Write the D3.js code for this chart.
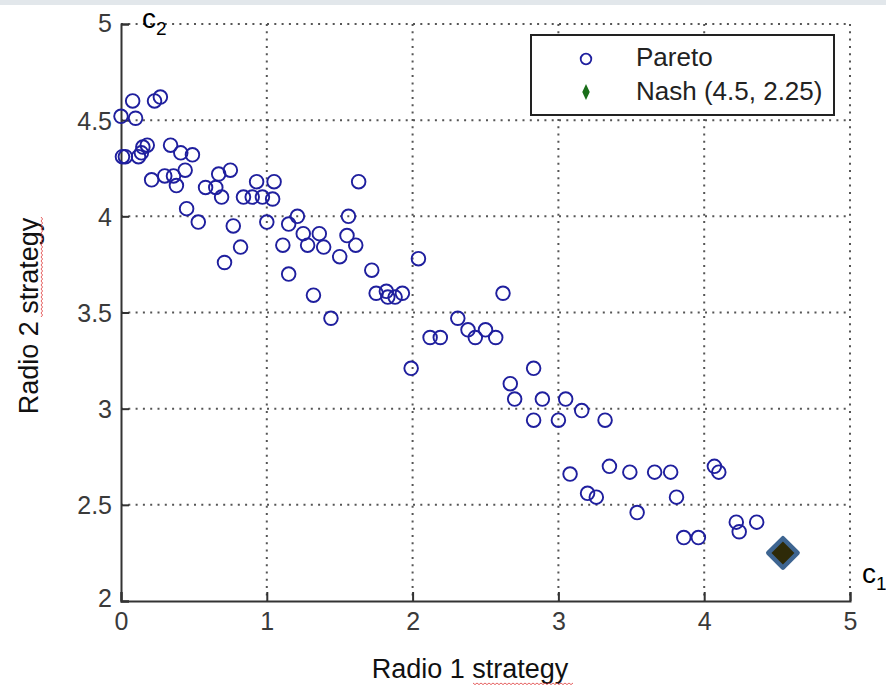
<!DOCTYPE html>
<html>
<head>
<meta charset='utf-8'>
<style>
body { margin: 0; background: #fff; }
text { font-family: 'Liberation Sans', Arial, sans-serif; }
.grid line { stroke: #555; stroke-width: 2px; stroke-dasharray: 2,5.3; }
.tick-label { fill: #3a3a3a; font-size: 25px; }
.axis-title { fill: #111; font-size: 27px; }
.pareto { fill: none; stroke: #1f1f9e; stroke-width: 1.9px; }
</style>
<script src='https://d3js.org/d3.v7.min.js'></script>
</head>
<body>
<svg id='chart1' width='886' height='685'></svg>
</body>
<script>
// Pareto front points
var paretoX = [0.00, 0.08, 0.10, 0.23, 0.27, 0.01, 0.03, 0.12, 0.14, 0.15,
  0.18, 0.34, 0.41, 0.49, 0.44, 0.21, 0.30, 0.36, 0.38, 0.45,
  0.53, 0.58, 0.65, 0.67, 0.69, 0.75, 0.77, 0.84, 0.90, 0.93,
  0.97, 1.04, 1.05, 1.00, 1.63, 1.15, 1.21, 1.25, 1.36, 1.56,
  1.55, 0.82, 0.71, 1.11, 1.28, 1.39, 1.50, 1.61, 1.15, 1.32,
  1.44, 1.72, 1.75, 1.82, 1.83, 1.88, 1.93, 2.04, 1.99, 2.12,
  2.19, 2.62, 2.31, 2.38, 2.43, 2.50, 2.57, 2.83, 2.67, 2.70,
  2.89, 3.05, 3.16, 2.83, 3.00, 3.32, 3.08, 3.35, 3.49, 3.66,
  3.77, 3.20, 3.26, 3.81, 3.54, 4.07, 4.10, 3.86, 3.96, 4.22,
  4.24, 4.36];
var paretoY = [4.52, 4.60, 4.51, 4.60, 4.62, 4.31, 4.31, 4.31, 4.33, 4.36,
  4.37, 4.37, 4.33, 4.32, 4.24, 4.19, 4.21, 4.21, 4.16, 4.04,
  3.97, 4.15, 4.15, 4.22, 4.10, 4.24, 3.95, 4.10, 4.10, 4.18,
  4.10, 4.09, 4.18, 3.97, 4.18, 3.96, 4.00, 3.91, 3.91, 4.00,
  3.90, 3.84, 3.76, 3.85, 3.85, 3.84, 3.79, 3.85, 3.70, 3.59,
  3.47, 3.72, 3.60, 3.61, 3.58, 3.58, 3.60, 3.78, 3.21, 3.37,
  3.37, 3.60, 3.47, 3.41, 3.37, 3.41, 3.37, 3.21, 3.13, 3.05,
  3.05, 3.05, 2.99, 2.94, 2.94, 2.94, 2.66, 2.70, 2.67, 2.67,
  2.67, 2.56, 2.54, 2.54, 2.46, 2.70, 2.67, 2.33, 2.33, 2.41,
  2.36, 2.41];

// Nash point (as plotted)
var nashX = [4.54];
var nashY = [2.25];

var xTicks = [0, 1, 2, 3, 4, 5];
var yTicks = [2, 2.5, 3, 3.5, 4, 4.5, 5];
var legendLabels = ['Pareto', 'Nash (4.5, 2.25)'];
var xLabel = 'Radio 1 strategy';
var yLabel = 'Radio 2 strategy';

var svg = d3.select('#chart1');
var margin = {top: 24, left: 121, right: 36, bottom: 84};
var width = +svg.attr('width') - margin.left - margin.right;
var height = +svg.attr('height') - margin.top - margin.bottom;

// faint window strip at the very top
svg.append('rect').
    attr('x', 0).attr('y', 0).
    attr('width', 886).attr('height', 5).
    attr('fill', '#e2e7eb');

var x = d3.scaleLinear().domain([0, 5]).range([0, width]);
var y = d3.scaleLinear().domain([2, 5]).range([height, 0]);

var g = svg.append('g').
    attr('transform', 'translate(' + margin.left + ',' + margin.top + ')');

// dotted grid
var grid = g.append('g').attr('class', 'grid');
grid.selectAll('.gx').
    data(xTicks.slice(1)).
  enter().append('line').
    attr('x1', function(d) { return x(d); }).
    attr('x2', function(d) { return x(d); }).
    attr('y1', 0).attr('y2', height);
grid.selectAll('.gy').
    data(yTicks.slice(1)).
  enter().append('line').
    attr('y1', function(d) { return y(d); }).
    attr('y2', function(d) { return y(d); }).
    attr('x1', 0).attr('x2', width);

// axes: MATLAB-style, ticks pointing inward
var xAxis = g.append('g').
    attr('transform', 'translate(0,' + height + ')').
    call(d3.axisBottom(x).tickValues(xTicks).tickSize(-9).tickPadding(4).tickFormat(d3.format('d')));
var yAxis = g.append('g').
    call(d3.axisLeft(y).tickValues(yTicks).tickSize(-8).tickPadding(9).tickFormat(function(d) { return String(d); }));

[xAxis, yAxis].forEach(function(a) {
  a.select('.domain').attr('stroke', '#333').attr('stroke-width', 2);
  a.selectAll('.tick line').attr('stroke', '#333').attr('stroke-width', 2);
  a.selectAll('.tick text').attr('class', 'tick-label').attr('fill', null).
      style('font-size', '25px');
});
xAxis.selectAll('.tick text').attr('dy', '1.0em');
yAxis.selectAll('.tick text').attr('dy', '0.36em');
yAxis.selectAll('.tick text').filter(function(d) { return d === 2; }).attr('dy', '0.2em');
yAxis.selectAll('.tick text').filter(function(d) { return d === 5; }).attr('dy', '0.3em');

// pareto points
var pts = paretoX.map(function(v, i) { return {x: v, y: paretoY[i]}; });
g.selectAll('.pareto').
    data(pts).
  enter().append('circle').
    attr('class', 'pareto').
    attr('cx', function(d) { return x(d.x); }).
    attr('cy', function(d) { return y(d.y); }).
    attr('r', 6.8);

// nash point
g.selectAll('.nash').
    data(nashX.map(function(v, i) { return {x: v, y: nashY[i]}; })).
  enter().append('path').
    attr('class', 'nash').
    attr('d', d3.symbol().type(d3.symbolSquare).size(430)).
    attr('transform', function(d) { return 'translate(' + x(d.x) + ',' + y(d.y) + ') rotate(45)'; }).
    attr('fill', '#2e2a08').
    attr('stroke', '#3e6591').
    attr('stroke-width', 4.5).
    attr('stroke-linejoin', 'round');

// legend
var leg = svg.append('g').attr('transform', 'translate(531,35)');
leg.append('rect').
    attr('width', 303).attr('height', 80).
    attr('fill', '#fff').attr('stroke', '#222').attr('stroke-width', 2);
leg.append('circle').
    attr('cx', 55).attr('cy', 24).attr('r', 5.3).
    attr('fill', 'none').attr('stroke', '#1f1f9e').attr('stroke-width', 1.8);
leg.append('path').
    attr('d', d3.symbol().type(d3.symbolDiamond).size(60)).
    attr('transform', 'translate(55,57) scale(0.9,1.1)').
    attr('fill', '#1a6e1a');
leg.selectAll('.lt').
    data(legendLabels).
  enter().append('text').
    attr('x', 105).
    attr('y', function(d, i) { return 31 + i * 34; }).
    attr('fill', '#222').
    style('font-size', '26px').
    text(function(d) { return d; });

// axis titles
svg.append('text').
    attr('class', 'axis-title').
    attr('x', 470).attr('y', 678).
    attr('text-anchor', 'middle').
    text(xLabel);
svg.append('text').
    attr('class', 'axis-title').
    attr('transform', 'translate(38,316) rotate(-90)').
    attr('text-anchor', 'middle').
    text(yLabel);

// spell-check squiggles under "strategy"
function squiggle(x0, x1, y0) {
  var p = 'M' + x0 + ',' + y0;
  for (var xx = x0, k = 0; xx < x1; xx += 2, k++) {
    p += 'L' + (xx + 2) + ',' + (y0 + (k % 2 ? 0 : 1.6));
  }
  return p;
}
svg.append('path').
    attr('d', squiggle(473, 572, 683)).
    attr('fill', 'none').attr('stroke', '#e25050').attr('stroke-width', 0.9);
svg.append('path').
    attr('d', squiggle(0, 100, 0)).
    attr('transform', 'translate(41,317) rotate(-90)').
    attr('fill', 'none').attr('stroke', '#e25050').attr('stroke-width', 0.9);

// corner labels c2 / c1
var c2 = svg.append('text').attr('x', 142).attr('y', 28).attr('fill', '#000').style('font-size', '28px');
c2.append('tspan').text('c');
c2.append('tspan').attr('dy', 7).style('font-size', '19px').text('2');
var c1 = svg.append('text').attr('x', 862).attr('y', 583).attr('fill', '#000').style('font-size', '28px');
c1.append('tspan').text('c');
c1.append('tspan').attr('dy', 7).style('font-size', '19px').text('1');
</script>
</html>
